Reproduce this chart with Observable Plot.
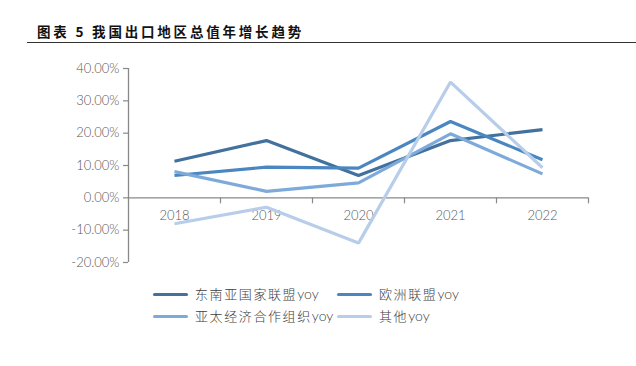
<!DOCTYPE html>
<html>
<head>
<meta charset="utf-8">
<script src="https://cdn.jsdelivr.net/npm/d3@7"></script>
<script src="https://cdn.jsdelivr.net/npm/@observablehq/plot@0.6"></script>
<style>
  html, body { margin: 0; padding: 0; background: #fff; }
  #wrap { position: relative; width: 636px; height: 366px; overflow: hidden; }
  #title { position: absolute; left: 37px; top: 22px; font-family: "Noto Sans CJK SC", sans-serif; font-weight: 700; font-size: 13.5px; letter-spacing: 2.8px; color: #111; line-height: 18px; white-space: nowrap; }
  #rule { position: absolute; left: 27px; top: 42px; width: 609px; height: 0; border-top: 1.6px solid #333; }
  #chart { position: absolute; left: 0; top: 50px; }
  .leg { position: absolute; font-family: "Noto Sans CJK SC", sans-serif; font-weight: 300; font-size: 13px; letter-spacing: 1.6px; color: #404040; white-space: nowrap; line-height: 16px; }
  .leg span.sw { display: inline-block; width: 35px; height: 3.5px; border-radius: 2px; vertical-align: middle; margin-right: 7px; position: relative; top: -1px; }
  .leg span.yo { font-family: Lato, sans-serif; font-weight: 300; letter-spacing: 0; font-size: 14px; }
  #chart text { font-weight: 300; }
</style>
</head>
<body>
<div id="wrap">
  <div id="title">图表 5 我国出口地区总值年增长趋势</div>
  <div id="rule"></div>
  <div id="chart"></div>
  <div id="legend"></div>
</div>
<script>
const years = [2018, 2019, 2020, 2021, 2022];
const seriesNames = ["东南亚国家联盟yoy", "欧洲联盟yoy", "亚太经济合作组织yoy", "其他yoy"];
const asean = [11.3, 17.7, 6.9, 17.7, 21.1];
const eu = [6.9, 9.5, 9.2, 23.6, 11.8];
const apec = [8.1, 2.0, 4.6, 19.8, 7.4];
const other = [-8.0, -2.9, -14.0, 35.8, 9.3];
const yTicks = [-20, -10, 0, 10, 20, 30, 40];
const colors = ["#41719c", "#4a86c0", "#7eaadb", "#b7cde9"];

const seriesValues = [asean, eu, apec, other];
const data = [];
seriesValues.forEach((vals, s) => {
  vals.forEach((v, i) => data.push({ series: seriesNames[s], year: years[i], value: v }));
});
const bounds = years.map(y => y - 0.5).concat([years[years.length - 1] + 0.5]);

const axisColor = "#898989";
const chart = Plot.plot({
  width: 636,
  height: 230,
  marginLeft: 128,
  marginRight: 48,
  marginTop: 18,
  marginBottom: 18,
  style: { fontFamily: "Lato, sans-serif", fontSize: "13px", color: "#595959", background: "transparent" },
  x: { domain: [bounds[0], bounds[bounds.length - 1]], axis: null },
  y: { domain: [-20, 40], axis: null },
  color: { domain: seriesNames, range: colors },
  marks: [
    Plot.ruleY([0], { stroke: axisColor, strokeWidth: 1.3 }),
    Plot.ruleX([bounds[0]], { y1: -20, y2: 40, stroke: axisColor, strokeWidth: 1.3 }),
    Plot.ruleX(bounds.slice(1), { x: d => d, y1: 0, y2: 0, insetBottom: -6, stroke: axisColor, strokeWidth: 1.2 }),
    Plot.ruleY(yTicks, { y: d => d, x1: bounds[0], x2: bounds[0], insetLeft: -5, stroke: axisColor, strokeWidth: 1.2 }),
    Plot.text(yTicks, { y: d => d, x: bounds[0], dx: -9, textAnchor: "end", text: d => d.toFixed(2) + "%", fill: "#595959", fontSize: 13 }),
    Plot.text(years, { x: d => d, y: 0, dy: 18, text: d => String(d), fill: "#595959", fontSize: 13 }),
    Plot.line(data, { x: "year", y: "value", z: "series", stroke: "series", strokeWidth: 3.2, strokeLinejoin: "miter", strokeLinecap: "butt" })
  ]
});
document.getElementById("chart").appendChild(chart);

const legendPos = [
  { left: 153, top: 286 },
  { left: 337, top: 286 },
  { left: 153, top: 308 },
  { left: 337, top: 308 }
];
const legend = document.getElementById("legend");
seriesNames.forEach((name, i) => {
  const d = document.createElement("div");
  d.className = "leg";
  d.style.left = legendPos[i].left + "px";
  d.style.top = legendPos[i].top + "px";
  const cjk = name.replace("yoy", "");
  d.innerHTML = `<span class="sw" style="background:${colors[i]}"></span>${cjk}<span class="yo">yoy</span>`;
  legend.appendChild(d);
});
</script>
</body>
</html>
